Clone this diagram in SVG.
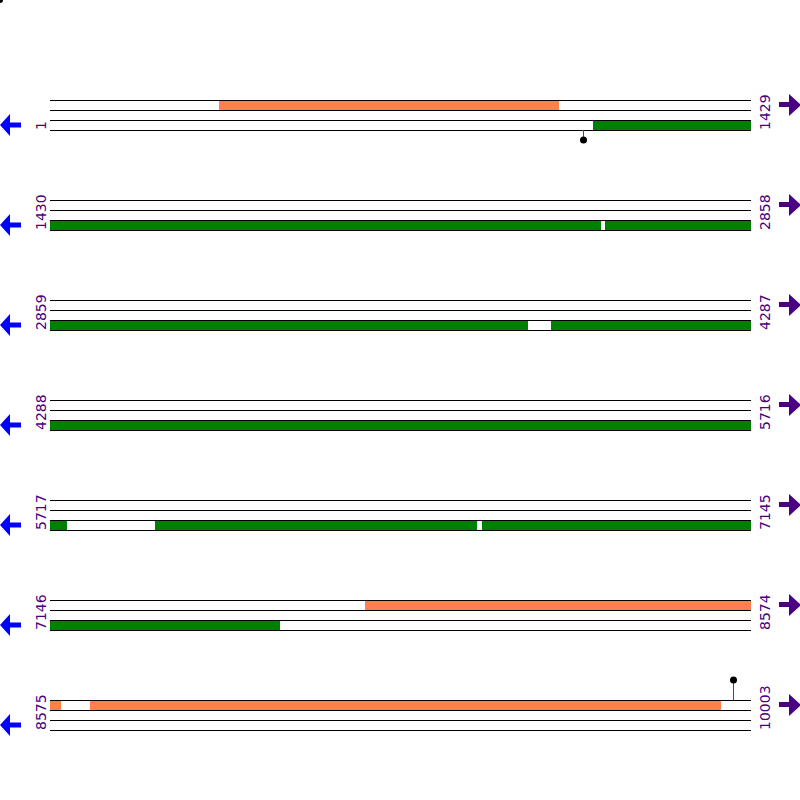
<svg xmlns="http://www.w3.org/2000/svg" width="800" height="800" viewBox="0 0 800 800">
<style>
.trk{stroke:#000;stroke-width:1}
.org{fill:#FF7F50}
.grn{fill:#008000}
.lbl{font-family:"DejaVu Sans",sans-serif;font-size:14px;fill:#4B0082}
.la{fill:#0000FF}
.ra{fill:#4B0082}
.pin{stroke:#FF0000;stroke-width:1}
</style>
<defs>
<g id="tracks">
<line class="trk" x1="50" y1="0.5" x2="751" y2="0.5"/>
<line class="trk" x1="50" y1="10.5" x2="751" y2="10.5"/>
<line class="trk" x1="50" y1="20.5" x2="751" y2="20.5"/>
<line class="trk" x1="50" y1="30.5" x2="751" y2="30.5"/>
</g>
<polygon id="larrow" points="0,25 10,14 10,22.5 21,22.5 21,27.5 10,27.5 10,36"/>
<polygon id="rarrow" points="779,2 789,2 789,-6 801,5 789,16 789,7 779,7"/>
</defs>
<circle cx="0" cy="0" r="3" fill="#000"/>
<g id="row1" transform="translate(0,100)">
<rect class="org" x="219" y="0" width="340" height="10"/>
<rect class="grn" x="593" y="20" width="158" height="10"/>
<use href="#tracks"/>
<line class="pin" x1="583.5" y1="30" x2="583.5" y2="40"/>
<circle cx="583.5" cy="40" r="3.5" fill="#000"/>
<text class="lbl" transform="translate(46,30) rotate(-90)">1</text>
<text class="lbl" transform="translate(770,30) rotate(-90)">1429</text>
<use href="#larrow" class="la"/>
<use href="#rarrow" class="ra"/>
</g>
<g id="row2" transform="translate(0,200)">
<rect class="grn" x="50" y="20" width="551" height="10"/>
<rect class="grn" x="605" y="20" width="146" height="10"/>
<use href="#tracks"/>
<text class="lbl" transform="translate(46,30) rotate(-90)">1430</text>
<text class="lbl" transform="translate(770,30) rotate(-90)">2858</text>
<use href="#larrow" class="la"/>
<use href="#rarrow" class="ra"/>
</g>
<g id="row3" transform="translate(0,300)">
<rect class="grn" x="50" y="20" width="478" height="10"/>
<rect class="grn" x="551" y="20" width="200" height="10"/>
<use href="#tracks"/>
<text class="lbl" transform="translate(46,30) rotate(-90)">2859</text>
<text class="lbl" transform="translate(770,30) rotate(-90)">4287</text>
<use href="#larrow" class="la"/>
<use href="#rarrow" class="ra"/>
</g>
<g id="row4" transform="translate(0,400)">
<rect class="grn" x="50" y="20" width="701" height="10"/>
<use href="#tracks"/>
<text class="lbl" transform="translate(46,30) rotate(-90)">4288</text>
<text class="lbl" transform="translate(770,30) rotate(-90)">5716</text>
<use href="#larrow" class="la"/>
<use href="#rarrow" class="ra"/>
</g>
<g id="row5" transform="translate(0,500)">
<rect class="grn" x="50" y="20" width="17" height="10"/>
<rect class="grn" x="155" y="20" width="322" height="10"/>
<rect class="grn" x="482" y="20" width="269" height="10"/>
<use href="#tracks"/>
<text class="lbl" transform="translate(46,30) rotate(-90)">5717</text>
<text class="lbl" transform="translate(770,30) rotate(-90)">7145</text>
<use href="#larrow" class="la"/>
<use href="#rarrow" class="ra"/>
</g>
<g id="row6" transform="translate(0,600)">
<rect class="org" x="365" y="0" width="386" height="10"/>
<rect class="grn" x="50" y="20" width="230" height="10"/>
<use href="#tracks"/>
<text class="lbl" transform="translate(46,30) rotate(-90)">7146</text>
<text class="lbl" transform="translate(770,30) rotate(-90)">8574</text>
<use href="#larrow" class="la"/>
<use href="#rarrow" class="ra"/>
</g>
<g id="row7" transform="translate(0,700)">
<rect class="org" x="50" y="0" width="11" height="10"/>
<rect class="org" x="90" y="0" width="631" height="10"/>
<use href="#tracks"/>
<line class="pin" x1="733.5" y1="0" x2="733.5" y2="-20"/>
<circle cx="733.5" cy="-20" r="3.5" fill="#000"/>
<text class="lbl" transform="translate(46,30) rotate(-90)">8575</text>
<text class="lbl" transform="translate(770,30) rotate(-90)">10003</text>
<use href="#larrow" class="la"/>
<use href="#rarrow" class="ra"/>
</g>
</svg>
